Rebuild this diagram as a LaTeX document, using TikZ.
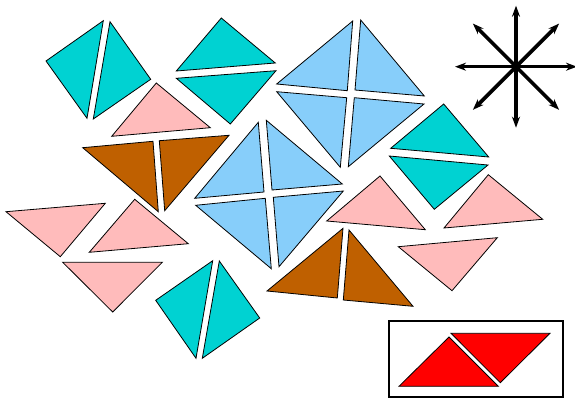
\documentclass[tikz,border=0pt]{standalone}
\usepackage{tikz}
\usetikzlibrary{arrows.meta}
\definecolor{TANcyan}{HTML}{00D2D2}
\definecolor{TANblue}{HTML}{87CEFA}
\definecolor{TANpink}{HTML}{FFBBBB}
\definecolor{TANbrown}{HTML}{BF6000}
\definecolor{TANred}{HTML}{FF0000}
\newcommand{\tanpiece}[4]{%
    \draw[#1] #2 -- #3 -- #4 -- cycle;
}

\begin{document}
\begin{tikzpicture}[x=1pt, y=-1pt,
    piece/.style={draw=black, line width=0.8pt, line join=miter},
    cyanpiece/.style={piece, fill=TANcyan},
    bluepiece/.style={piece, fill=TANblue},
    pinkpiece/.style={piece, fill=TANpink},
    brownpiece/.style={piece, fill=TANbrown},
    redpiece/.style={piece, fill=TANred},
    compassarrow/.style={line width=3.6pt, -{Stealth[length=11pt, width=8pt]}},
    framebox/.style={draw=black, line width=2.6pt},
]
\useasboundingbox (0,0) rectangle (575,401);

% --- Cyan squares (two halves each) ---
\tanpiece{cyanpiece}{(46,61)}{(103.3,20.7)}{(87,118.3)}
\tanpiece{cyanpiece}{(110,21.7)}{(150.7,79.3)}{(93.3,119)}
\tanpiece{cyanpiece}{(221.3,18)}{(275.3,63)}{(176.3,71)}
\tanpiece{cyanpiece}{(176.3,78.3)}{(276,70.7)}{(230.3,124)}
\tanpiece{cyanpiece}{(443.7,104)}{(488.7,157)}{(390.7,148.3)}
\tanpiece{cyanpiece}{(389.3,156)}{(488,165)}{(434.3,209.3)}
\tanpiece{cyanpiece}{(155.7,300.3)}{(212.7,260.7)}{(196,358.3)}
\tanpiece{cyanpiece}{(219.3,261)}{(259.7,318)}{(202.3,358.3)}

% --- Blue squares (four quarters each) ---
\tanpiece{bluepiece}{(352.7,21)}{(276.7,84)}{(347.3,90.7)}
\tanpiece{bluepiece}{(360.7,20)}{(424.3,96)}{(355,90)}
\tanpiece{bluepiece}{(276.7,91.7)}{(346.7,97.7)}{(340.3,167.3)}
\tanpiece{bluepiece}{(354.3,97.7)}{(424,104)}{(348.3,166.7)}
\tanpiece{bluepiece}{(258.3,122.3)}{(194.7,198.3)}{(264,192)}
\tanpiece{bluepiece}{(266.3,120.3)}{(342.3,184)}{(272,190)}
\tanpiece{bluepiece}{(195.7,205.3)}{(265.3,198.3)}{(271.3,268.7)}
\tanpiece{bluepiece}{(273.3,197.3)}{(343.3,191)}{(279,266.7)}

% --- Pink single triangles ---
\tanpiece{pinkpiece}{(156.3,83)}{(210.3,127.7)}{(111.7,136.3)}
\tanpiece{pinkpiece}{(380,176)}{(425.3,229.7)}{(326.7,221)}
\tanpiece{pinkpiece}{(488.3,174.7)}{(542.7,219.3)}{(444,228)}
\tanpiece{pinkpiece}{(398.3,246.7)}{(497.3,237.7)}{(452,290.7)}
\tanpiece{pinkpiece}{(6,211.7)}{(105.3,203.3)}{(60.3,256.7)}
\tanpiece{pinkpiece}{(134.7,199.3)}{(188.3,243.7)}{(89.3,252.3)}
\tanpiece{pinkpiece}{(62.7,262.3)}{(162.3,262.3)}{(112.7,312)}

% --- Brown pairs ---
\tanpiece{brownpiece}{(82.7,147.7)}{(153,141.3)}{(158.3,211.7)}
\tanpiece{brownpiece}{(159.3,140.7)}{(229,135.3)}{(164.7,210.7)}
\tanpiece{brownpiece}{(343,228.3)}{(337.3,298)}{(267,291)}
\tanpiece{brownpiece}{(349,230)}{(413,306.3)}{(343.3,300)}

% --- Compass ---
\coordinate (compass) at (516,66.7);
\foreach \ang in {0,45,...,315} {
    \draw[compassarrow] (compass) -- ++(\ang:61);
}

% --- Framed red parallelogram ---
\draw[framebox] (389,321) rectangle (563,397);
\tanpiece{redpiece}{(449,337)}{(498.3,386.3)}{(399,386.3)}
\tanpiece{redpiece}{(451,333.3)}{(550,333.3)}{(500.3,382.7)}

\end{tikzpicture}
\end{document}
